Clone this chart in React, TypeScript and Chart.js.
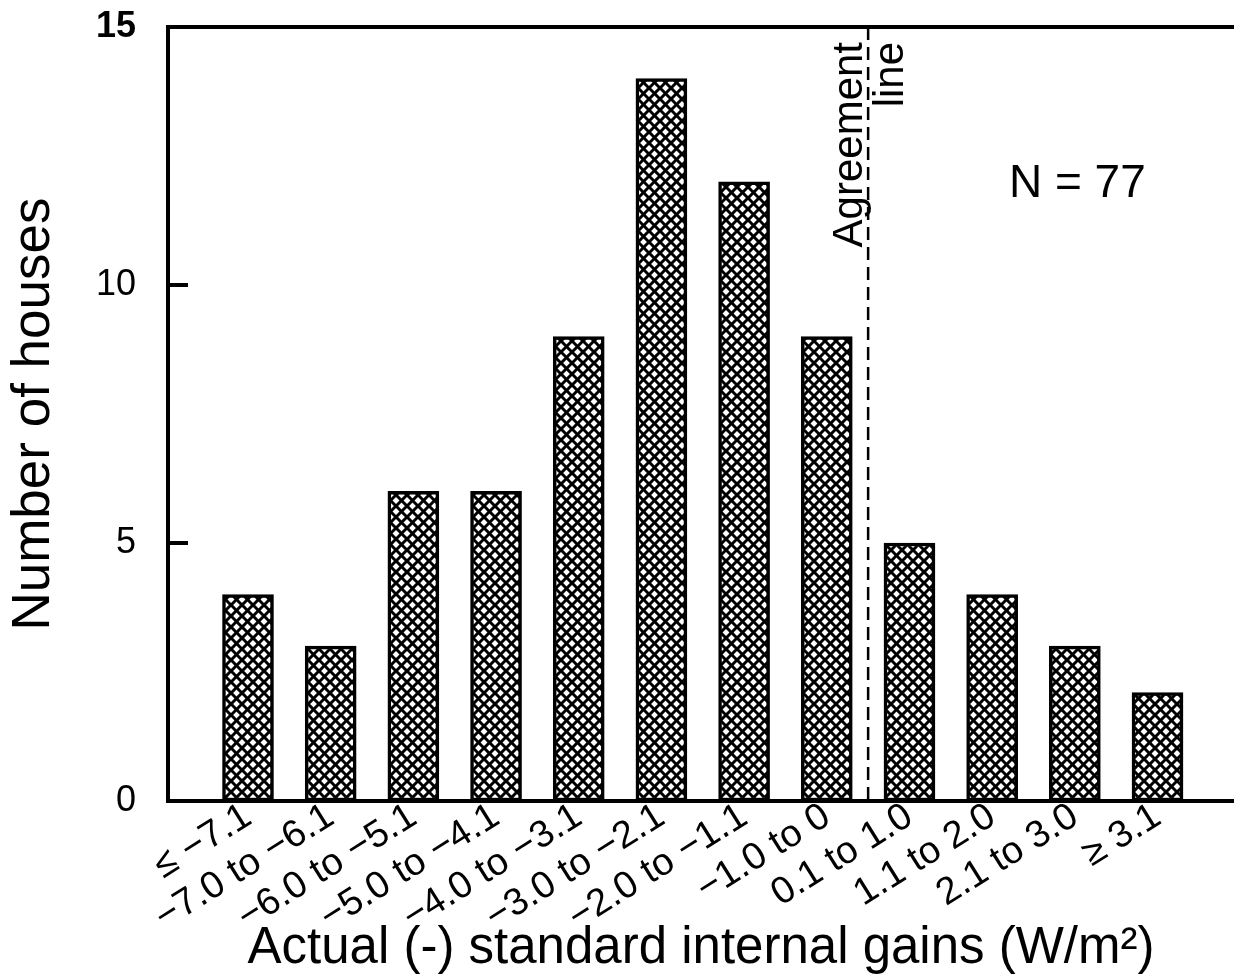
import React, { useEffect, useRef } from "react";
import { Chart, registerables } from "chart.js";

Chart.register(...registerables);

// ---- data ----
const categories = [
  "≤ −7.1",
  "−7.0 to −6.1",
  "−6.0 to −5.1",
  "−5.0 to −4.1",
  "−4.0 to −3.1",
  "−3.0 to −2.1",
  "−2.0 to −1.1",
  "−1.0 to 0",
  "0.1 to 1.0",
  "1.1 to 2.0",
  "2.1 to 3.0",
  "≥ 3.1",
];
const houses = [4, 3, 6, 6, 9, 14, 12, 9, 5, 4, 3, 2.1];
const yMin = 0;
const yMax = 15;
const yStep = 5;
const yTickValues = [0, 5, 10, 15];
const xTitle = "Actual (-) standard internal gains (W/m²)";
const yTitle = "Number of houses";
const nText = "N = 77";
const agreementText = ["Agreement", "line"];
const agreementAt = 7.5; // between "−1.0 to 0" and "0.1 to 1.0"

const FAMILY = "'Liberation Sans', Arial, Helvetica, sans-serif";

function makeHatch(): CanvasPattern | string {
  const s = 11;
  const c = document.createElement("canvas");
  c.width = s;
  c.height = s;
  const g = c.getContext("2d");
  if (!g) return "#888";
  g.fillStyle = "#fff";
  g.fillRect(0, 0, s, s);
  g.strokeStyle = "#000";
  g.lineWidth = 3;
  for (const k of [-1, 0, 1]) {
    g.beginPath();
    g.moveTo(-s, -s + k * s);
    g.lineTo(2 * s, 2 * s + k * s);
    g.stroke();
    g.beginPath();
    g.moveTo(-s, 2 * s + k * s);
    g.lineTo(2 * s, -s + k * s);
    g.stroke();
  }
  return g.createPattern(c, "repeat") || "#888";
}

const annotPlugin = {
  id: "annot",
  afterDraw(chart: any) {
    const { ctx, chartArea: a } = chart;
    const x = chart.scales.x;
    const y = chart.scales.y;
    ctx.save();
    ctx.setLineDash([]);
    ctx.strokeStyle = "#000";
    ctx.fillStyle = "#000";
    // top frame line
    ctx.lineWidth = 4;
    ctx.beginPath();
    ctx.moveTo(a.left - 2, a.top);
    ctx.lineTo(a.right, a.top);
    ctx.stroke();
    // inward tick marks on y axis (filled rectangles)
    for (const v of yTickValues) {
      const py = y.getPixelForValue(v);
      ctx.fillRect(a.left, py - 2, 20, 4);
    }
    // agreement dashed line
    const px = x.getPixelForValue(agreementAt);
    ctx.lineWidth = 2.5;
    ctx.setLineDash([13, 7]);
    ctx.beginPath();
    ctx.moveTo(px, a.top);
    ctx.lineTo(px, a.bottom);
    ctx.stroke();
    ctx.setLineDash([]);
    // rotated texts
    ctx.font = `42px ${FAMILY}`;
    ctx.textAlign = "right";
    ctx.textBaseline = "alphabetic";
    const topY = y.getPixelForValue(14.71);
    const bases = [x.getPixelForValue(7.426), x.getPixelForValue(7.922)];
    agreementText.forEach((txt, i) => {
      ctx.save();
      ctx.translate(bases[i], topY);
      ctx.rotate(-Math.PI / 2);
      ctx.fillText(txt, 0, 0);
      ctx.restore();
    });
    // N label
    ctx.font = `46px ${FAMILY}`;
    ctx.textAlign = "center";
    ctx.fillText(nText, x.getPixelForValue(10.03), y.getPixelForValue(11.7));
    ctx.restore();
  },
};

export default function App() {
  const ref = useRef<HTMLCanvasElement | null>(null);
  useEffect(() => {
    if (!ref.current) return;
    const hatch = makeHatch();
    const chart = new Chart(ref.current, {
      type: "bar",
      data: {
        datasets: [
          {
            data: houses.map((v, i) => ({ x: i, y: v })),
            backgroundColor: hatch as any,
            borderColor: "#000",
            borderWidth: 3.5,
            borderSkipped: false,
            barThickness: 51,
          },
        ],
      },
      options: {
        responsive: false,
        animation: false,
        devicePixelRatio: 1,
        layout: { padding: { top: 27, left: 0, right: 0, bottom: 0 } },
        plugins: { legend: { display: false }, tooltip: { enabled: false } },
        scales: {
          x: {
            type: "linear",
            offset: false,
            min: -0.9676,
            max: 11.925,
            grid: { display: false, drawTicks: false },
            border: { display: true, color: "#000", width: 4 },
            ticks: {
              stepSize: 1,
              includeBounds: false,
              autoSkip: false,
              minRotation: 32,
              maxRotation: 32,
              padding: -7,
              color: "#000",
              font: { family: FAMILY, size: 38 },
              callback: (v: any) => categories[Number(v)] ?? "",
            },
            title: {
              display: true,
              text: xTitle,
              color: "#000",
              font: { family: FAMILY, size: 51 },
              padding: { top: 5, bottom: 0 },
            },
            afterFit: (s: any) => {
              s.height = 179;
            },
          },
          y: {
            min: yMin,
            max: yMax,
            grid: { display: false, drawTicks: true, tickLength: 30 },
            border: { display: true, color: "#000", width: 4 },
            ticks: {
              stepSize: yStep,
              padding: 2,
              color: "#000",
              font: (c: any) => ({
                family: FAMILY,
                size: 36,
                weight: c.tick && c.tick.value === yMax ? "bold" : "normal",
              }),
            },
            title: {
              display: true,
              text: yTitle,
              color: "#000",
              font: { family: FAMILY, size: 53 },
              padding: { top: 3, bottom: 0 },
            },
            afterFit: (s: any) => {
              s.width = 168;
            },
          },
        },
      } as any,
      plugins: [annotPlugin],
    });
    return () => chart.destroy();
  }, []);
  return (
    <div style={{ position: "absolute", left: 0, top: 0, width: 1234, height: 980, background: "#fff" }}>
      <canvas ref={ref} width={1234} height={980} />
    </div>
  );
}
